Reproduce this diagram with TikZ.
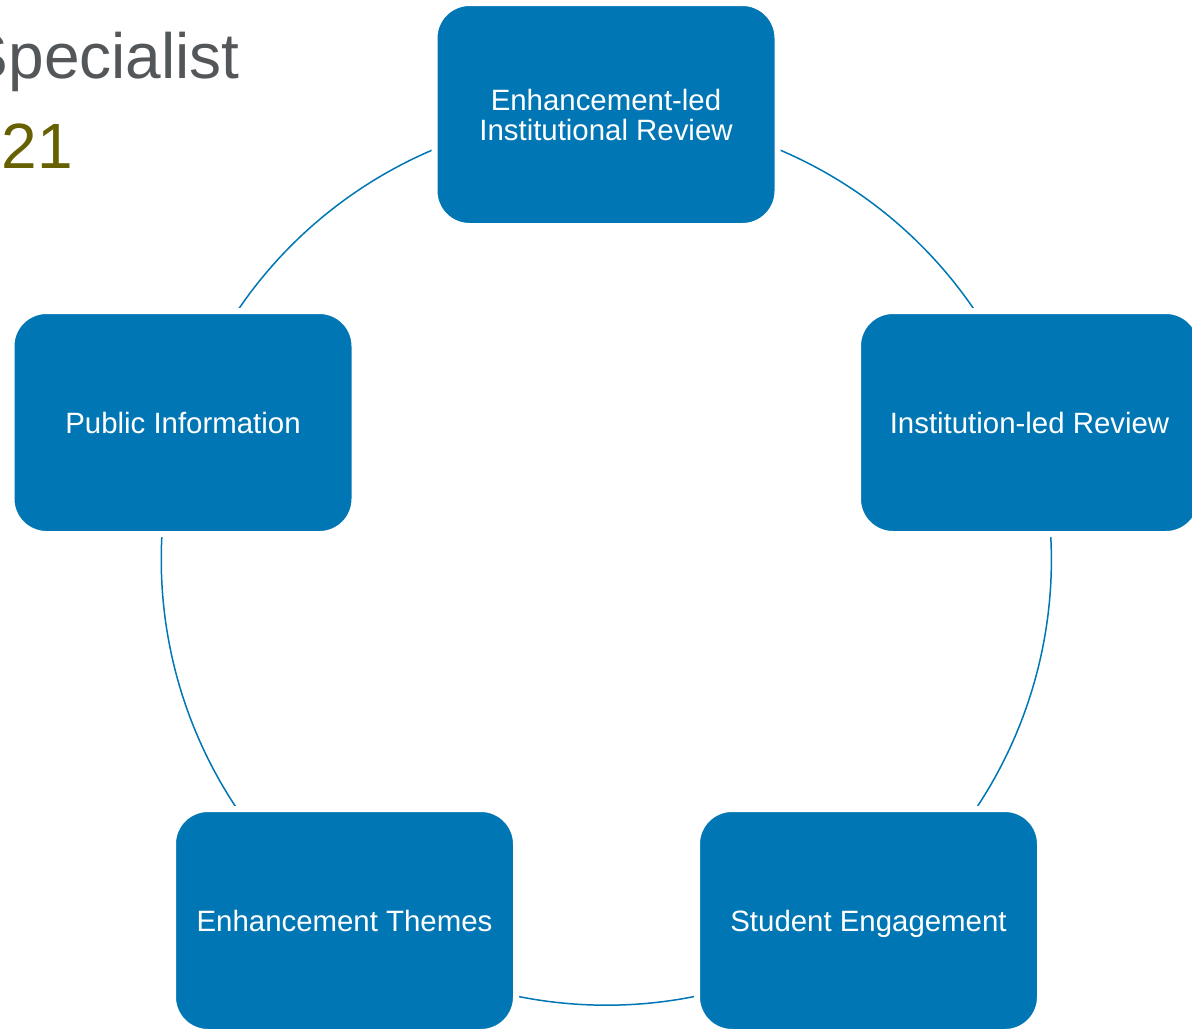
\documentclass[tikz,border=0pt]{standalone}
\usepackage{fontspec}
\setmainfont{Liberation Sans}
\usepackage{xcolor}
\usepackage{tikz}
\usetikzlibrary{backgrounds}
\definecolor{qaablue}{RGB}{0,118,180}
\definecolor{slidegrey}{RGB}{84,87,90}
\definecolor{slideolive}{RGB}{102,96,0}
\tikzstyle{box} = [rectangle, rounded corners=35pt, fill=qaablue, draw=white, line width=6pt, minimum width=343pt, minimum height=223pt, inner sep=0pt, text depth=0pt, align=center, text=white, font={\fontsize{29.4}{30}\selectfont}]
\tikzstyle{ring} = [draw=qaablue, line width=1.5pt, bend left=36, looseness=0.94]
\tikzstyle{heading} = [anchor=base east, inner sep=0pt, font={\fontsize{64}{70}\selectfont}]

\begin{document}
\begin{tikzpicture}[
    x=1pt,
    y=-1pt
  ]
    \useasboundingbox (0,0) rectangle (1192,1029);
    \node [heading, text=slidegrey] (course) at (240,78) {Specialist};
    \node [heading, text=slideolive] (year) at (73,168) {21};
    \node [box] (eirev) at (606,114.5)
      {Enhancement-led\\
        Institutional Review};
    \node [box] (ilrev) at (1029.5,422.5) {Institution-led Review};
    \node [box] (steng) at (868.5,920.5) {Student Engagement};
    \node [box] (enth) at (344.5,920.5) {Enhancement Themes};
    \node [box] (pubinf) at (183,422.5) {Public Information};
    \begin{pgfonlayer}{background}
      \path [ring] (eirev.center) to (ilrev.center);
      \path [ring] (ilrev.center) to (steng.center);
      \path [ring] (steng.center) to (enth.center);
      \path [ring] (enth.center) to (pubinf.center);
      \path [ring] (pubinf.center) to (eirev.center);
    \end{pgfonlayer}
  \end{tikzpicture}
\end{document}
